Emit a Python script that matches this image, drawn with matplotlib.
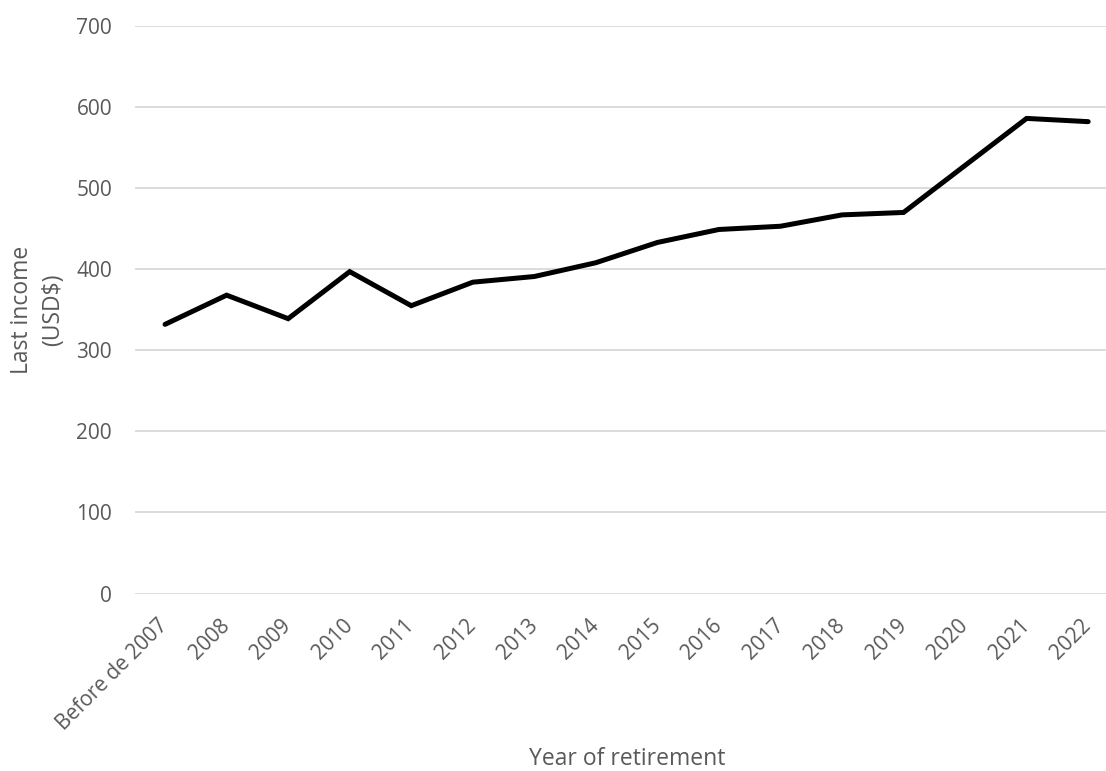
import matplotlib
matplotlib.use('Agg')
import matplotlib.pyplot as plt

plt.rcParams['font.family'] = ['Open Sans', 'DejaVu Sans']

years = ['Before de 2007', '2008', '2009', '2010', '2011', '2012', '2013', '2014',
         '2015', '2016', '2017', '2018', '2019', '2020', '2021', '2022']
income = [332, 368, 339, 397, 355, 384, 391, 408, 433, 449, 453, 467, 470, 528, 586, 582]

grey = '#595959'

fig = plt.figure(figsize=(11.06, 7.71), dpi=100)
ax = fig.add_axes([0.122, 0.2302, 0.878, 0.7361])

x = range(len(years))
ax.plot(x, income, color='black', lw=3.6, solid_capstyle='round', solid_joinstyle='miter', zorder=3)

ax.set_ylim(0, 700)
ax.set_xlim(-0.49, 15.29)
ax.set_yticks(range(0, 701, 100))
ax.set_xticks(list(x))
ax.set_xticklabels(years, rotation=45, ha='right', va='center', rotation_mode='anchor')
ax.grid(axis='y', color='#d9d9d9', lw=1.3)
ax.set_axisbelow(True)
for s in ax.spines.values():
    s.set_visible(False)
ax.tick_params(axis='both', length=0, colors=grey, labelsize=15)
ax.tick_params(axis='y', pad=16.5)
ax.tick_params(axis='x', pad=21)

fig.text(38 / 1106, 1 - 310 / 771, 'Last income\n(USD$)', color=grey, fontsize=16.5,
         rotation=90, ha='center', va='center', multialignment='center', linespacing=1.4)
fig.text(627 / 1106, 1 - 759 / 771, 'Year of retirement', color=grey, fontsize=16.5,
         ha='center', va='center')

fig.savefig('out.png', dpi=100)
